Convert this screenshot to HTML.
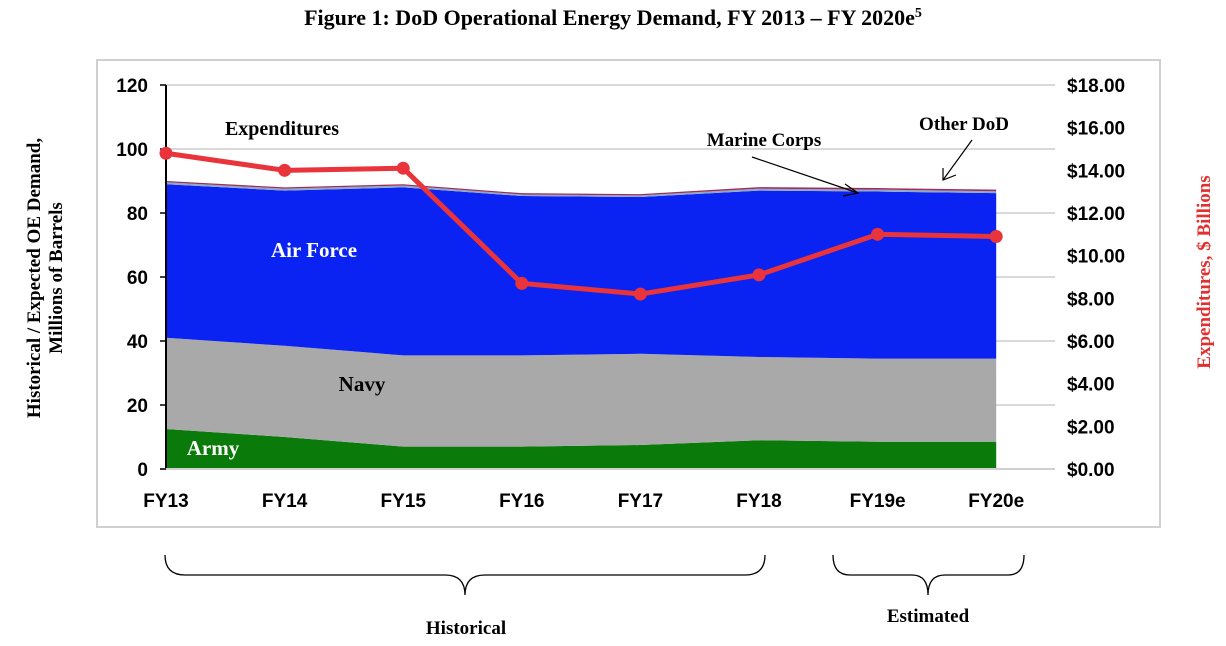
<!DOCTYPE html>
<html><head><meta charset="utf-8"><style>
body{margin:0;background:#fff;width:1226px;height:641px;overflow:hidden}
svg{font-family:"Liberation Sans",sans-serif}
.serif{font-family:"Liberation Serif",serif;font-weight:bold}
</style></head><body>
<svg width="1226" height="641" viewBox="0 0 1226 641">
<text class="serif" x="613" y="25" text-anchor="middle" font-size="22">Figure 1:  DoD Operational Energy Demand, FY 2013 – FY 2020e<tspan dy="-8" font-size="14">5</tspan></text>
<rect x="97" y="60" width="1063" height="467" fill="#fff" stroke="#d0d0d0" stroke-width="2"/>
<g id="grid"></g><g id="areas"></g><g id="axes"></g><g id="line"></g>
<text class="serif" x="282" y="135" text-anchor="middle" font-size="20">Expenditures</text>
<text class="serif" x="314" y="257" text-anchor="middle" font-size="21" fill="#fff">Air Force</text>
<text class="serif" x="362" y="391" text-anchor="middle" font-size="21">Navy</text>
<text class="serif" x="213" y="455" text-anchor="middle" font-size="21" fill="#fff">Army</text>
<text class="serif" x="764" y="146" text-anchor="middle" font-size="19">Marine Corps</text>
<line x1="752" y1="157" x2="858" y2="193" stroke="#000" stroke-width="1.2"/>
<path d="M845 184 L858 193 L843 196" fill="none" stroke="#000" stroke-width="1.2"/>
<text class="serif" x="964" y="130" text-anchor="middle" font-size="19">Other DoD</text>
<line x1="972" y1="140" x2="943" y2="180" stroke="#000" stroke-width="1.2"/>
<path d="M943 168 L943 180 L956 175" fill="none" stroke="#000" stroke-width="1.2"/>
<g transform="translate(40,278) rotate(-90)"><text class="serif" text-anchor="middle" font-size="19"><tspan x="0" y="0">Historical / Expected OE Demand,</tspan><tspan x="0" y="22">Millions of Barrels</tspan></text></g>
<g transform="translate(1210,272) rotate(-90)"><text class="serif" text-anchor="middle" font-size="19" fill="#e03030">Expenditures, $ Billions</text></g>
<path d="M165 555 Q165 575 185 575 L445 575 Q465 575 465 595 Q465 575 485 575 L745 575 Q765 575 765 555" fill="none" stroke="#000" stroke-width="1.3"/>
<text class="serif" x="466" y="634" text-anchor="middle" font-size="19">Historical</text>
<path d="M833 555 Q833 575 850 575 L912 575 Q928 575 928 595 Q928 575 945 575 L1008 575 Q1024 575 1024 555" fill="none" stroke="#000" stroke-width="1.3"/>
<text class="serif" x="928" y="622" text-anchor="middle" font-size="19">Estimated</text>
</svg>
<script>
const categories=["FY13","FY14","FY15","FY16","FY17","FY18","FY19e","FY20e"];
const army=[12.5,10,7,7,7.5,9,8.5,8.5];
const navy=[28.5,28.5,28.5,28.5,28.5,26,26,26];
const airForce=[48,48.5,52.5,49.8,49,52,52.2,51.7];
const marineCorps=[0.6,0.6,0.6,0.5,0.5,0.6,0.6,0.6];
const otherDod=[0.4,0.4,0.4,0.4,0.4,0.5,0.5,0.5];
const expenditures=[14.8,14.0,14.1,8.7,8.2,9.1,11.0,10.9];
const leftTicks=[0,20,40,60,80,100,120];
const rightTicks=[0,2,4,6,8,10,12,14,16,18];
const NS="http://www.w3.org/2000/svg";
const x0=166,step=118.6,y0=469,yTop=85;
const xs=i=>x0+i*step;
const yL=v=>y0-v*(y0-yTop)/120;
const yR=v=>y0-v*(y0-yTop)/18;
function mk(t,a,p){const e=document.createElementNS(NS,t);for(const k in a)e.setAttribute(k,a[k]);p.appendChild(e);return e;}
const grid=document.getElementById('grid'),areas=document.getElementById('areas'),axes=document.getElementById('axes'),line=document.getElementById('line');
leftTicks.forEach(v=>{
 if(v>0){const g=mk('line',{x1:x0,x2:1055,y1:yL(v),y2:yL(v),stroke:'#d9d9d9','stroke-width':2},grid);
 
 }
 const t=mk('text',{x:148,y:yL(v)+7,'text-anchor':'end','font-size':19,'font-weight':'bold'},axes);t.textContent=v;
 
 
});
rightTicks.forEach(v=>{
 const t=mk('text',{x:1067,y:yR(v)+7,'font-size':19,'font-weight':'bold'},axes);t.textContent='$'+v.toFixed(2);
 
 
});
const series=[[army,'#0a7a0a','army-area'],[navy,'#a9a9a9','navy-area'],[airForce,'#0a22f2','air-force-area'],[marineCorps,'#8fa8c8','marine-corps-area'],[otherDod,'#9b2f5a','other-dod-area']];
let base=categories.map(()=>0);
series.forEach(([vals,col,name])=>{
 const top=base.map((b,i)=>b+vals[i]);
 let d='M'+categories.map((c,i)=>xs(i)+','+yL(top[i])).join(' L');
 for(let i=categories.length-1;i>=0;i--)d+=' L'+xs(i)+','+yL(base[i]);
 const p=mk('path',{d:d+'Z',fill:col},areas);
 
 
 base=top;
});
mk('line',{x1:x0,x2:x0,y1:yTop,y2:y0,stroke:'#000','stroke-width':2},axes);
mk('line',{x1:x0-6,x2:1055,y1:y0,y2:y0,stroke:'#d0d0d0','stroke-width':2},axes);
leftTicks.forEach(v=>mk('line',{x1:x0-6,x2:x0,y1:yL(v),y2:yL(v),stroke:'#000','stroke-width':1.5},axes));
categories.forEach((c,i)=>{
 const t=mk('text',{x:xs(i),y:507,'text-anchor':'middle','font-size':19,'font-weight':'bold'},axes);t.textContent=c;
 
 
});
const pl=mk('polyline',{points:expenditures.map((v,i)=>xs(i)+','+yR(v)).join(' '),fill:'none',stroke:'#e8343a','stroke-width':5,'stroke-linejoin':'round'},line);


expenditures.forEach((v,i)=>{
 const c=mk('circle',{cx:xs(i),cy:yR(v),r:6.5,fill:'#e8343a'},line);
 
 
});
</script>
</body></html>
